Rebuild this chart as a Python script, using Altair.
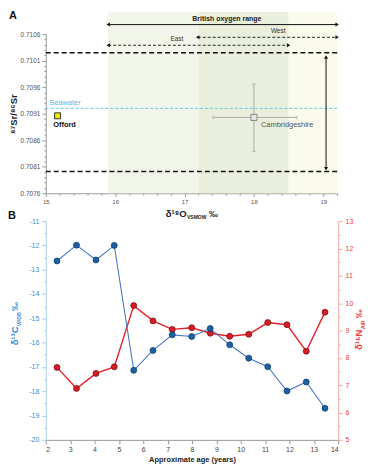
import altair as alt
import pandas as pd

FONT = "Liberation Sans"

# ---------------- Panel A data ----------------
region_lo = [15.9, 17.2, 18.5]
region_hi = [17.2, 18.5, 19.2]
region_fill = ["#f2f5ea", "#eaefdd", "#fafbea"]
region_top = 0.71102
sr_bottom = 0.7076

limit_sr = [0.71025, 0.70801]
seawater_sr = [0.7092]

site_o = [15.17]
site_sr = [0.70906]

ref_o = [18.0]
ref_sr = [0.70903]
ref_o_lo = [17.41]
ref_o_hi = [18.62]
ref_sr_lo = [0.70839]
ref_sr_hi = [0.70966]

range_names = ["British oxygen range", "West", "East"]
range_lo = [15.9, 17.19, 15.9]
range_hi = [19.2, 19.2, 18.5]
range_level = [0.71078, 0.71054, 0.71039]
range_label_o = [17.61, 18.35, 16.89]
range_label_sr = [0.71089, 0.71065, 0.71050]

span_o = [19.04]
span_lo = [0.70806]
span_hi = [0.71017]

a_x_major = [15, 16, 17, 18, 19]
a_y_major = [0.7076, 0.7081, 0.7086, 0.7091, 0.7096, 0.7101, 0.7106]

# ---------------- Panel B data ----------------
age = [2.46, 3.26, 4.06, 4.81, 5.61, 6.40, 7.19, 7.99, 8.75, 9.55, 10.33, 11.11, 11.90, 12.69, 13.46]
d13c = [-12.64, -11.99, -12.60, -12.00, -17.14, -16.32, -15.68, -15.75, -15.42, -16.09, -16.64, -16.99, -17.99, -17.62, -18.70]
d15n = [7.65, 6.88, 7.43, 7.67, 9.91, 9.35, 9.04, 9.10, 8.90, 8.79, 8.86, 9.29, 9.21, 8.24, 9.67]

b_x_major = list(range(2, 15))
b_left_major = list(range(-20, -10))
b_right_major = list(range(5, 14))

# tick positions including minor subdivisions
a_x_ticks = sorted(set([round(a + i * 0.2, 1) for a in a_x_major for i in range(5)] + [19.2]))
a_y_ticks = [round(a_y_major[0] + i * 0.0001, 4) for i in range(31)]
b_left_ticks = [v + h for v in b_left_major for h in (0, 0.5)][:-1]
b_right_ticks = [v + h for v in b_right_major for h in (0, 0.5)][:-1]

WA, HA = 293, 160
WB, HB = 294, 220

# ---------------- Panel A ----------------
axis_ax = alt.Axis(
    values=a_x_ticks, title=None, grid=False,
    labelExpr="abs(datum.value - round(datum.value)) < 0.01 ? format(datum.value, 'd') : ''",
    tickSize={"condition": {"test": "abs(datum.value - round(datum.value)) < 0.01", "value": 3}, "value": 2},
    labelFontSize=6, labelColor="#555555", labelPadding=2, domainColor="#999999",
    tickColor="#999999", labelOverlap=False, labelFlush=False,
)
axis_ay = alt.Axis(
    values=a_y_ticks, title="⁸⁷Sr/⁸⁶Sr", grid=False,
    labelExpr="round(datum.value*10000) % 5 == 1 ? format(datum.value, '.4f') : ''",
    tickSize={"condition": {"test": "round(datum.value*10000) % 5 == 1", "value": 4}, "value": 2},
    labelFontSize=6.5, labelColor="#555555", labelPadding=2, domainColor="#999999",
    tickColor="#999999", labelOverlap=False, labelFlush=False,
    titleFontSize=9.5, titleFontWeight="bold", titleColor="#222222", titlePadding=2,
)
x_scale_a = alt.Scale(domain=[15, 19.2], nice=False, zero=False)
y_scale_a = alt.Scale(domain=[0.7076, 0.7106], nice=False, zero=False)


def XA(f="o"):
    return alt.X(f"{f}:Q", scale=x_scale_a, axis=axis_ax)


def YA(f="sr"):
    return alt.Y(f"{f}:Q", scale=y_scale_a, axis=axis_ay)


regions = pd.DataFrame({"o": region_lo, "o2": region_hi, "fill": region_fill,
                        "sr": [sr_bottom] * 3, "sr2": [region_top] * 3})
bg = alt.Chart(regions).mark_rect().encode(
    x=XA(), x2="o2:Q", y=YA(), y2="sr2:Q", color=alt.Color("fill:N", scale=None))

limits = alt.Chart(pd.DataFrame({"sr": limit_sr})).mark_rule(
    color="#111111", strokeWidth=1.6, strokeDash=[5, 3]).encode(y=YA())

sea = alt.Chart(pd.DataFrame({"sr": seawater_sr})).mark_rule(
    color="#55c6ee", strokeWidth=0.9, strokeDash=[3, 2]).encode(y=YA())
sea_text = alt.Chart(pd.DataFrame({"sr": seawater_sr, "o": [15.05], "t": ["Seawater"]})).mark_text(
    align="left", baseline="bottom", dy=-1, fontSize=7.5, color="#4cc0ec").encode(x=XA(), y=YA(), text="t:N")

ranges = pd.DataFrame({"o": range_lo, "o2": range_hi, "sr": range_level, "name": range_names})
range_solid = alt.Chart(ranges.iloc[[0]]).mark_rule(color="#111111", strokeWidth=1).encode(
    x=XA(), x2="o2:Q", y=YA())
range_dash = alt.Chart(ranges.iloc[[1, 2]]).mark_rule(color="#111111", strokeWidth=0.9, strokeDash=[3, 2]).encode(
    x=XA(), x2="o2:Q", y=YA())
span = alt.Chart(pd.DataFrame({"o": span_o, "sr": span_lo, "sr2": span_hi})).mark_rule(
    color="#111111", strokeWidth=1).encode(x=XA(), y=YA(), y2="sr2:Q")

heads = pd.DataFrame({
    "o": range_lo + range_hi + span_o + span_o,
    "sr": range_level + range_level + span_hi + span_lo,
    "shape": ["triangle-left"] * 3 + ["triangle-right"] * 3 + ["triangle-up", "triangle-down"],
})
head_marks = alt.Chart(heads).mark_point(filled=True, size=16, color="#111111", opacity=1).encode(
    x=XA(), y=YA(), shape=alt.Shape("shape:N", scale=None))

range_labels = pd.DataFrame({"o": range_label_o, "sr": range_label_sr, "t": range_names})
lab_british = alt.Chart(range_labels.iloc[[0]]).mark_text(
    fontSize=7, fontWeight="bold", color="#222222").encode(x=XA(), y=YA(), text="t:N")
lab_we = alt.Chart(range_labels.iloc[[1, 2]]).mark_text(
    fontSize=6.5, color="#333333").encode(x=XA(), y=YA(), text="t:N")

ref_df = pd.DataFrame({"o": ref_o, "sr": ref_sr, "olo": ref_o_lo, "ohi": ref_o_hi,
                       "srlo": ref_sr_lo, "srhi": ref_sr_hi})
err_h = alt.Chart(ref_df).mark_rule(color="#aaaaaa", strokeWidth=1).encode(
    x=XA("olo"), x2="ohi:Q", y=YA())
err_v = alt.Chart(ref_df).mark_rule(color="#aaaaaa", strokeWidth=1).encode(
    x=XA(), y=YA("srlo"), y2="srhi:Q")
caps_h = alt.Chart(pd.DataFrame({"o": ref_o_lo + ref_o_hi, "sr": ref_sr * 2})).mark_tick(
    orient="vertical", size=4, thickness=1, color="#aaaaaa").encode(x=XA(), y=YA())
caps_v = alt.Chart(pd.DataFrame({"o": ref_o * 2, "sr": ref_sr_lo + ref_sr_hi})).mark_tick(
    orient="horizontal", size=4, thickness=1, color="#aaaaaa").encode(x=XA(), y=YA())
ref_pt = alt.Chart(ref_df).mark_square(size=38, fill="#e4e4e4", stroke="#888888", strokeWidth=1,
                                       opacity=1).encode(x=XA(), y=YA())
ref_text = alt.Chart(pd.DataFrame({"o": [18.48], "sr": [0.70889], "t": ["Cambridgeshire"]})).mark_text(
    fontSize=7.5, color="#555555").encode(x=XA(), y=YA(), text="t:N")

site_pt = alt.Chart(pd.DataFrame({"o": site_o, "sr": site_sr})).mark_square(
    size=36, fill="#f2e400", stroke="#222222", strokeWidth=0.9, opacity=1).encode(x=XA(), y=YA())
site_text = alt.Chart(pd.DataFrame({"o": [15.27], "sr": [0.70888], "t": ["Offord"]})).mark_text(
    fontSize=7.5, fontWeight="bold", color="#111111").encode(x=XA(), y=YA(), text="t:N")


def label(text, x, y, size, color, weight="bold", angle=0, align="center", baseline="middle"):
    kw = dict(fontSize=size, color=color, fontWeight=weight, align=align, baseline=baseline)
    if angle:
        kw["angle"] = angle
    return alt.Chart(pd.DataFrame({"t": [text]})).mark_text(**kw).encode(
        x=alt.value(x), y=alt.value(y), text="t:N")


ax_anchor = WA * 0.483
a_x_title = [
    label("δ¹⁸O", ax_anchor, HA + 20.5, 9.5, "#222222", align="right"),
    label("VSMOW", ax_anchor + 0.5, HA + 23.5, 5, "#222222", align="left"),
    label("‰", ax_anchor + 22.5, HA + 21, 9, "#222222", align="left"),
]
tag_a = label("A", -33, -18.5, 11, "#111111")

panel_a = alt.layer(
    bg, limits, sea, sea_text, range_solid, range_dash, span, head_marks,
    lab_british, lab_we, err_h, err_v, caps_h, caps_v, ref_pt, ref_text,
    site_pt, site_text, tag_a, *a_x_title,
).properties(width=WA, height=HA)

# ---------------- Panel B ----------------
BLUE_T = "#3a8edb"
RED_T = "#f03c3c"
dfB = pd.DataFrame({"age": age, "c": d13c, "n": d15n})

axis_bx = alt.Axis(values=b_x_major, title="Approximate age (years)", grid=False,
                   labelFontSize=7, labelColor="#444444", tickSize=4, labelPadding=2,
                   domainColor="#999999", tickColor="#999999",
                   titleFontSize=7.5, titleFontWeight="bold", titleColor="#222222", titlePadding=3)
x_b = alt.X("age:Q", scale=alt.Scale(domain=[2, 14], nice=False, zero=False), axis=axis_bx)

axis_left = alt.Axis(
    orient="left", values=b_left_ticks, title=None, grid=False,
    labelExpr="datum.value % 1 == 0 ? '' + datum.value : ''",
    tickSize={"condition": {"test": "datum.value % 1 == 0", "value": 4}, "value": 2},
    labelFontSize=7, labelColor=BLUE_T, labelPadding=3, domainColor="#a9cff2",
    tickColor="#a9cff2", labelOverlap=False, labelFlush=False)
axis_right = alt.Axis(
    orient="right", values=b_right_ticks, title=None, grid=False,
    labelExpr="datum.value % 1 == 0 ? '' + datum.value : ''",
    tickSize={"condition": {"test": "datum.value % 1 == 0", "value": 4}, "value": 2},
    labelFontSize=7, labelColor=RED_T, labelPadding=3, domainColor="#f7a9a9",
    tickColor="#f7a9a9", labelOverlap=False, labelFlush=False)

y_c = alt.Y("c:Q", scale=alt.Scale(domain=[-20, -11], nice=False, zero=False), axis=axis_left)
y_n = alt.Y("n:Q", scale=alt.Scale(domain=[5, 13], nice=False, zero=False), axis=axis_right)

red = alt.layer(
    alt.Chart(dfB).mark_line(color="#e8202a", strokeWidth=1.4).encode(x=x_b, y=y_n),
    alt.Chart(dfB).mark_circle(size=36, color="#d71c24", stroke="#6e0b10", strokeWidth=0.7,
                               opacity=1).encode(x=x_b, y=y_n),
)
blue = alt.layer(
    alt.Chart(dfB).mark_line(color="#4a78c8", strokeWidth=1.1).encode(x=x_b, y=y_c),
    alt.Chart(dfB).mark_circle(size=36, color="#1d5fa3", stroke="#0c3966", strokeWidth=0.7,
                               opacity=1).encode(x=x_b, y=y_c),
)

bl_anchor = HB * 0.482
br_anchor = HB * 0.496
b_titles = [
    label("δ¹³C", -31, bl_anchor, 9.5, BLUE_T, angle=270, align="right"),
    label("VPDB", -26.5, bl_anchor - 0.5, 5, BLUE_T, angle=270, align="left"),
    label("‰", -31, bl_anchor - 15.5, 9, BLUE_T, angle=270, align="left"),
    label("δ¹⁵N", WB + 21, br_anchor, 9.5, RED_T, angle=270, align="right"),
    label("AIR", WB + 25, br_anchor - 0.5, 5, RED_T, angle=270, align="left"),
    label("‰", WB + 21, br_anchor - 11.5, 9, RED_T, angle=270, align="left"),
]
tag_b = label("B", -34, -5, 11, "#111111")

panel_b = alt.layer(red, blue, tag_b, *b_titles).resolve_scale(y="independent").properties(
    width=WB, height=HB)

chart = alt.vconcat(panel_a, panel_b, spacing=28, bounds="flush").properties(
    padding={"left": 0, "top": 0, "right": 0, "bottom": 0}
).configure(font=FONT).configure_view(stroke=None).configure_axis(grid=False)

chart.save("out.html", embed_options={"renderer": "svg", "actions": False})
